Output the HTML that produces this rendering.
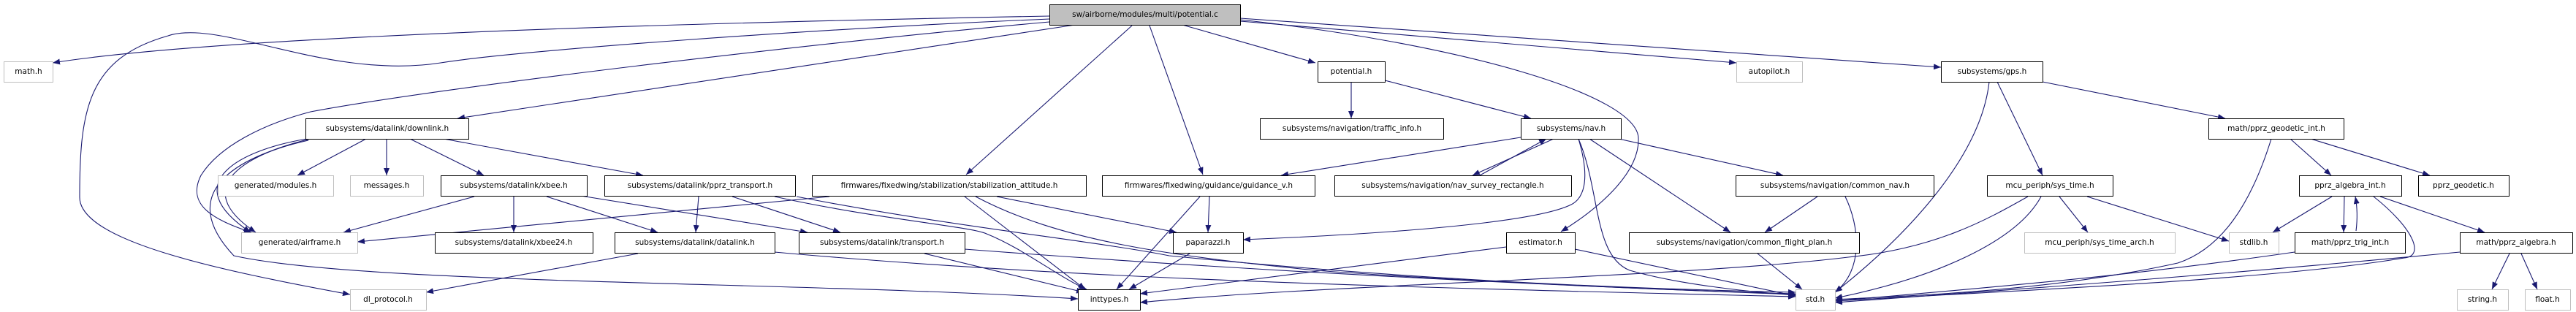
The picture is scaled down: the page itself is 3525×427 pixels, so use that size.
<!DOCTYPE html>
<html><head><meta charset="utf-8"><style>
html,body{margin:0;padding:0;background:#fff;width:3525px;height:427px;overflow:hidden}
svg text{font-family:"DejaVu Sans","Liberation Sans",sans-serif;font-size:10.5px;fill:#000;text-anchor:middle;dominant-baseline:central}
.e{fill:none;stroke:#191970;stroke-width:1.1;marker-end:url(#a)}
.n{fill:#fff;stroke:#000;stroke-width:1}
.g{fill:#fff;stroke:#bfbfbf;stroke-width:1}
.r{fill:#bfbfbf;stroke:#000;stroke-width:1}
</style></head><body>
<svg width="3525" height="427" viewBox="0 0 3525 427" xmlns="http://www.w3.org/2000/svg">
<defs><marker id="a" markerUnits="userSpaceOnUse" markerWidth="11" markerHeight="8" refX="10" refY="4" orient="auto"><path d="M0,0 L10,4 L0,8 z" fill="#191970"/></marker></defs>
<path class="e" d="M1436,22 C900,32 300,50 72,86"/>
<path class="e" d="M1436,26 C1100,40 700,70 603,86 C450,110 300,25 230,49 C120,80 109,150 109,270 C109,330 300,370 479,403"/>
<path class="e" d="M1436,30 C1100,60 600,120 425,153 C360,170 300,200 275,240 C255,280 290,300 344,318"/>
<path class="e" d="M1471,34 L626,162"/>
<path class="e" d="M1549,35 L1322,239"/>
<path class="e" d="M1573,35 L1646,239"/>
<path class="e" d="M1618,34 L1800,86"/>
<path class="e" d="M1697,27 C2000,60 2240,130 2242,189 C2244,240 2180,290 2136,317"/>
<path class="e" d="M1697,29 L2376,86"/>
<path class="e" d="M1697,25 L2656,92"/>
<path class="e" d="M1849,112 L1849,162"/>
<path class="e" d="M1895,110 L2095,162"/>
<path class="e" d="M2081,188 L1753,240"/>
<path class="e" d="M2126,190 L2015,240"/>
<path class="e" d="M2025,240 L2116,190"/>
<path class="e" d="M2160,190 C2175,240 2170,270 2150,280 C2100,305 1900,320 1701,328"/>
<path class="e" d="M2160,190 C2190,260 2180,350 2230,370 C2300,390 2400,400 2457,404"/>
<path class="e" d="M2175,190 L2368,318"/>
<path class="e" d="M2215,190 L2440,240"/>
<path class="e" d="M2487,269 L2415,318"/>
<path class="e" d="M2525,269 C2545,310 2550,370 2511,400"/>
<path class="e" d="M2405,347 L2466,396"/>
<path class="e" d="M2061,338 L1560,402"/>
<path class="e" d="M2155,341 L2457,405"/>
<path class="e" d="M2722,112 C2710,220 2600,330 2511,400"/>
<path class="e" d="M2733,112 L2795,240"/>
<path class="e" d="M2795,112 L3045,162"/>
<path class="e" d="M2775,269 C2720,300 2650,340 2529,352 C2300,380 1800,390 1560,414"/>
<path class="e" d="M2793,269 C2760,330 2650,380 2511,408"/>
<path class="e" d="M2818,269 L2857,318"/>
<path class="e" d="M2856,269 L3050,330"/>
<path class="e" d="M3108,190 C3080,280 3040,340 2980,360 C2800,400 2600,405 2511,410"/>
<path class="e" d="M3134,190 L3190,240"/>
<path class="e" d="M3162,190 L3325,240"/>
<path class="e" d="M3191,269 L3110,318"/>
<path class="e" d="M3208,269 L3207,318"/>
<path class="e" d="M3224,316 C3226,300 3226,285 3223,269"/>
<path class="e" d="M3248,269 C3300,310 3320,350 3290,353 C3100,385 2700,400 2511,412"/>
<path class="e" d="M3257,269 L3400,318"/>
<path class="e" d="M3140,345 C2900,380 2700,395 2511,412"/>
<path class="e" d="M3366,345 C3000,380 2700,400 2511,414"/>
<path class="e" d="M3434,347 L3410,396"/>
<path class="e" d="M3450,347 L3472,396"/>
<path class="e" d="M501,190 L407,240"/>
<path class="e" d="M529,190 L529,240"/>
<path class="e" d="M561,190 L662,240"/>
<path class="e" d="M607,190 L880,240"/>
<path class="e" d="M420,190 C330,205 240,250 343,318"/>
<path class="e" d="M425,190 C340,210 255,255 350,318"/>
<path class="e" d="M422,192 C320,215 240,265 320,350 C500,390 1100,385 1475,409"/>
<path class="e" d="M649,269 L470,318"/>
<path class="e" d="M703,269 L703,318"/>
<path class="e" d="M748,269 L900,318"/>
<path class="e" d="M795,268 L1105,318"/>
<path class="e" d="M1135,269 L489,331"/>
<path class="e" d="M956,269 L952,318"/>
<path class="e" d="M1002,269 L1150,318"/>
<path class="e" d="M1060,269 C1200,300 1330,310 1350,320 C1400,340 1450,380 1487,396"/>
<path class="e" d="M1090,269 C1300,310 1500,330 1600,350 C1900,380 2200,395 2457,400"/>
<path class="e" d="M1320,269 L1485,396"/>
<path class="e" d="M1335,269 C1450,330 1600,350 1800,370 C2000,385 2300,398 2457,402"/>
<path class="e" d="M1364,269 L1610,318"/>
<path class="e" d="M1642,269 L1528,396"/>
<path class="e" d="M1655,269 L1653,318"/>
<path class="e" d="M873,347 L583,400"/>
<path class="e" d="M1060,345 C1500,385 2000,395 2457,406"/>
<path class="e" d="M1265,347 L1483,400"/>
<path class="e" d="M1320,341 C1700,370 2100,390 2457,403"/>
<path class="e" d="M1628,347 L1545,396"/>
<rect class="r" x="1436.5" y="6.5" width="261" height="28"/><text x="1567" y="20">sw/airborne/modules/multi/potential.c</text>
<rect class="g" x="5.5" y="84.5" width="67" height="28"/><text x="39" y="98">math.h</text>
<rect class="n" x="1803.5" y="84.5" width="92" height="28"/><text x="1849" y="98">potential.h</text>
<rect class="g" x="2376.5" y="84.5" width="90" height="28"/><text x="2421" y="98">autopilot.h</text>
<rect class="n" x="2656.5" y="84.5" width="139" height="28"/><text x="2726" y="98">subsystems/gps.h</text>
<rect class="n" x="418.5" y="162.5" width="223" height="28"/><text x="530" y="176">subsystems/datalink/downlink.h</text>
<rect class="n" x="1724.5" y="162.5" width="251" height="28"/><text x="1850" y="176">subsystems/navigation/traffic_info.h</text>
<rect class="n" x="2081.5" y="162.5" width="137" height="28"/><text x="2150" y="176">subsystems/nav.h</text>
<rect class="n" x="3022.5" y="162.5" width="185" height="28"/><text x="3115" y="176">math/pprz_geodetic_int.h</text>
<rect class="g" x="298.5" y="240.5" width="158" height="28"/><text x="377" y="254">generated/modules.h</text>
<rect class="g" x="479.5" y="240.5" width="100" height="28"/><text x="529" y="254">messages.h</text>
<rect class="n" x="603.5" y="240.5" width="200" height="28"/><text x="703" y="254">subsystems/datalink/xbee.h</text>
<rect class="n" x="827.5" y="240.5" width="261" height="28"/><text x="958" y="254">subsystems/datalink/pprz_transport.h</text>
<rect class="n" x="1111.5" y="240.5" width="375" height="28"/><text x="1299" y="254">firmwares/fixedwing/stabilization/stabilization_attitude.h</text>
<rect class="n" x="1508.5" y="240.5" width="291" height="28"/><text x="1654" y="254">firmwares/fixedwing/guidance/guidance_v.h</text>
<rect class="n" x="1826.5" y="240.5" width="324" height="28"/><text x="1988" y="254">subsystems/navigation/nav_survey_rectangle.h</text>
<rect class="n" x="2375.5" y="240.5" width="271" height="28"/><text x="2511" y="254">subsystems/navigation/common_nav.h</text>
<rect class="n" x="2719.5" y="240.5" width="172" height="28"/><text x="2805" y="254">mcu_periph/sys_time.h</text>
<rect class="n" x="3146.5" y="240.5" width="140" height="28"/><text x="3216" y="254">pprz_algebra_int.h</text>
<rect class="n" x="3309.5" y="240.5" width="124" height="28"/><text x="3371" y="254">pprz_geodetic.h</text>
<rect class="g" x="330.5" y="318.5" width="159" height="28"/><text x="410" y="332">generated/airframe.h</text>
<rect class="n" x="595.5" y="318.5" width="216" height="28"/><text x="703" y="332">subsystems/datalink/xbee24.h</text>
<rect class="n" x="841.5" y="318.5" width="219" height="28"/><text x="951" y="332">subsystems/datalink/datalink.h</text>
<rect class="n" x="1093.5" y="318.5" width="227" height="28"/><text x="1207" y="332">subsystems/datalink/transport.h</text>
<rect class="n" x="1605.5" y="318.5" width="96" height="28"/><text x="1653" y="332">paparazzi.h</text>
<rect class="n" x="2061.5" y="318.5" width="94" height="28"/><text x="2108" y="332">estimator.h</text>
<rect class="n" x="2229.5" y="318.5" width="315" height="28"/><text x="2387" y="332">subsystems/navigation/common_flight_plan.h</text>
<rect class="g" x="2770.5" y="318.5" width="206" height="28"/><text x="2873" y="332">mcu_periph/sys_time_arch.h</text>
<rect class="g" x="3050.5" y="318.5" width="68" height="28"/><text x="3084" y="332">stdlib.h</text>
<rect class="n" x="3140.5" y="318.5" width="151" height="28"/><text x="3216" y="332">math/pprz_trig_int.h</text>
<rect class="n" x="3366.5" y="318.5" width="154" height="28"/><text x="3443" y="332">math/pprz_algebra.h</text>
<rect class="g" x="479.5" y="396.5" width="104" height="28"/><text x="531" y="410">dl_protocol.h</text>
<rect class="n" x="1475.5" y="396.5" width="85" height="28"/><text x="1518" y="410">inttypes.h</text>
<rect class="g" x="2457.5" y="396.5" width="54" height="28"/><text x="2484" y="410">std.h</text>
<rect class="g" x="3362.5" y="396.5" width="70" height="28"/><text x="3397" y="410">string.h</text>
<rect class="g" x="3455.5" y="396.5" width="62" height="28"/><text x="3486" y="410">float.h</text>
</svg>
</body></html>
